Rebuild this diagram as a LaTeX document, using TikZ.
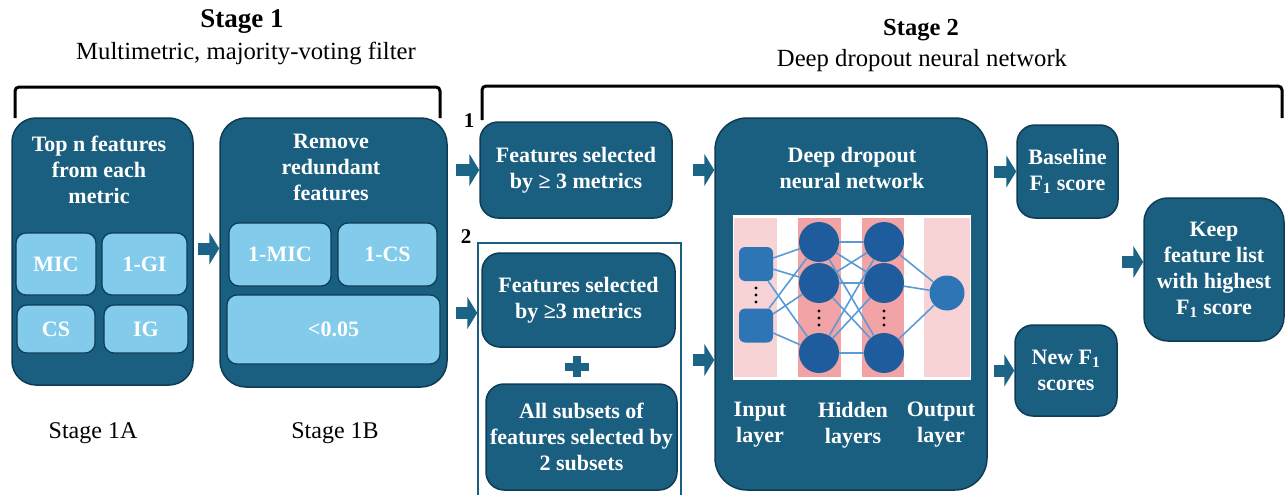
\documentclass[tikz,border=0pt]{standalone}
\usepackage{fontspec}
\setmainfont{Liberation Serif}
\usetikzlibrary{arrows.meta,calc}
\definecolor{boxc}{HTML}{1A5E80}
\definecolor{boxb}{HTML}{0E3C55}
\definecolor{lightc}{HTML}{82CBEB}
\definecolor{arrc}{HTML}{1B6485}
\definecolor{pinkl}{HTML}{F8D3D6}
\definecolor{pinkd}{HTML}{F2A3A5}
\definecolor{nnsq}{HTML}{2E75B6}
\definecolor{nnhid}{HTML}{1F5C9E}
\definecolor{edgec}{HTML}{5B9BD5}
\begin{document}
\begin{tikzpicture}[x=1pt,y=-1pt,
  boxtext/.style={text=white,font=\bfseries\fontsize{22}{26}\selectfont,align=center,inner sep=0pt},
  darkbox/.style={draw=boxb,line width=1.5pt,fill=boxc,rounded corners=#1,inner sep=0pt},
  darkbox/.default=18pt,
  lightbox/.style={draw=boxb,line width=1.2pt,fill=lightc,rounded corners=10pt,text=white,font=\bfseries\fontsize{22}{26}\selectfont,align=center,inner sep=0pt},
  barrow/.style={line width=12pt,draw=arrc,-{Triangle[length=10pt,width=32pt]}},
  bracket/.style={line width=3pt,rounded corners=4pt},
  headb/.style={font=\bfseries\fontsize{#1}{30}\selectfont,inner sep=0pt},
  headr/.style={font=\fontsize{24.7}{29}\selectfont,inner sep=0pt},
  plainlab/.style={font=\fontsize{24}{29}\selectfont,inner sep=0pt},
  numlab/.style={font=\bfseries\fontsize{21}{25}\selectfont,inner sep=0pt},
  hid/.style={circle,fill=nnhid,minimum size=40pt,inner sep=0pt},
  outn/.style={circle,fill=nnsq,minimum size=35pt,inner sep=0pt},
  inn/.style={rectangle,rounded corners=6pt,fill=nnsq,minimum size=34pt,inner sep=0pt},
  edge/.style={draw=edgec,line width=1.6pt}
]
\useasboundingbox (0,0) rectangle (1285,495);
\begin{scope}
\clip (0,0) rectangle (1285,495);

% headings
\node[headb=27] (s1h) at (242,22) {Stage 1};
\node[headr] (s1s) at (246,53) {Multimetric, majority-voting filter};
\node[headb=24.5] (s2h) at (921,30) {Stage 2};
\node[headr] (s2s) at (922,61) {Deep dropout neural network};

% brackets
\draw[bracket] (15,118) -- (15,87) -- (440,87) -- (440,118);
\draw[bracket] (482,120) -- (482,86) -- (1282,86) -- (1282,118);

% Stage 1A
\node[darkbox=24pt,minimum width=181pt,minimum height=267pt] (A) at (102.5,251.5) {};
\node[boxtext] (At) at (99,170) {Top n features\\from each\\metric};
\node[lightbox,minimum width=80pt,minimum height=62pt] (mic) at (56,264) {MIC};
\node[lightbox,minimum width=85pt,minimum height=62pt] (gi) at (144.5,264) {1-GI};
\node[lightbox,minimum width=78pt,minimum height=48pt] (cs) at (56,329) {CS};
\node[lightbox,minimum width=84pt,minimum height=48pt] (ig) at (146,329) {IG};

% Stage 1B
\node[darkbox=26pt,minimum width=227pt,minimum height=269pt] (B) at (333.5,252.5) {};
\node[boxtext] (Bt) at (331,167) {Remove\\redundant\\features};
\node[lightbox,minimum width=102pt,minimum height=63pt] (bmic) at (280,254.5) {1-MIC};
\node[lightbox,minimum width=99pt,minimum height=63pt] (bcs) at (387.5,254.5) {1-CS};
\node[lightbox,minimum width=213pt,minimum height=69pt] (blt) at (333.5,329.5) {<0.05};

\node[plainlab] (l1a) at (93,433) {Stage 1A};
\node[plainlab] (l1b) at (335,433) {Stage 1B};

% Stage 2 inputs
\node[numlab] (n1) at (469,121) {1};
\node[numlab] (n2) at (466,237) {2};
\node[darkbox,minimum width=192pt,minimum height=96pt] (F1) at (576,170) {};
\node[boxtext] at (F1) {Features selected\\by ≥ 3 metrics};
\node[draw=boxc,line width=1.5pt,minimum width=203pt,minimum height=262pt,inner sep=0pt] (G2) at (579.5,374) {};
\node[darkbox,minimum width=193pt,minimum height=94pt] (F2) at (578.5,300) {};
\node[boxtext] at (F2) {Features selected\\by ≥3 metrics};
\fill[arrc] (565,363) rectangle (589,371);
\fill[arrc] (573,356) rectangle (581,377);
\node[darkbox,minimum width=191pt,minimum height=106pt] (S) at (581.5,437) {};
\node[boxtext] at (S) {All subsets of\\features selected by\\2 subsets};

% DNN
\node[darkbox=32pt,minimum width=272pt,minimum height=372pt] (D) at (851,304) {};
\node[boxtext] (Dt) at (852,168) {Deep dropout\\neural network};
\fill[white] (733,215) rectangle (971,380);
\fill[pinkl] (734,218) rectangle (777,377);
\fill[pinkd] (798,218) rectangle (841,377);
\fill[pinkd] (862,218) rectangle (904,377);
\fill[pinkl] (924,218) rectangle (970,377);
\node[inn] (i1) at (756,264) {};
\node[inn] (i2) at (756,325.5) {};
\node[hid] (h1) at (819,242) {};
\node[hid] (h2) at (819,283) {};
\node[hid] (h3) at (819,353) {};
\node[hid] (k1) at (884,242) {};
\node[hid] (k2) at (884,283) {};
\node[hid] (k3) at (884,353) {};
\node[outn] (o) at (947,293) {};
\foreach \a in {i1,i2}{\foreach \b in {h1,h2,h3}{\draw[edge] (\a) -- (\b);}}
\foreach \a in {h1,h2,h3}{\foreach \b in {k1,k2,k3}{\draw[edge] (\a) -- (\b);}}
\foreach \a in {k1,k2,k3}{\draw[edge] (\a) -- (o);}
\foreach \yy in {288,295,302}{\fill (756,\yy) circle (1.7);}
\foreach \yy in {311,318,325}{\fill (819,\yy) circle (1.7); \fill (884,\yy) circle (1.7);}
\node[boxtext] (li) at (760,425) {Input\\layer};
\node[boxtext] (lh) at (853,425) {Hidden\\layers};
\node[boxtext] (lo) at (941,425) {Output\\layer};

% outputs
\node[darkbox,minimum width=101pt,minimum height=93pt] (BL) at (1067.5,171.5) {};
\node[boxtext] at (BL) {Baseline\\F\textsubscript{1} score};
\node[darkbox,minimum width=102pt,minimum height=91pt] (NF) at (1066,370.5) {};
\node[boxtext] at (NF) {New F\textsubscript{1}\\scores};
\node[darkbox=24pt,minimum width=140pt,minimum height=143pt] (K) at (1214,269.5) {};
\node[boxtext] at (K) {Keep\\feature list\\with highest\\F\textsubscript{1} score};

% block arrows
\coordinate (p2) at (0,313);
\coordinate (p3) at (0,360);
\coordinate (k0) at (1122,262);
\draw[barrow] ($(A.east)+(4,-3)$) -- ($(B.west)+(0,-4)$);
\draw[barrow] ($(B.east |- F1.west)+(8,0)$) -- (F1.west);
\draw[barrow] ($(B.east |- p2)+(8,0)$) -- (G2.west |- p2);
\draw[barrow] ($(F1.east)+(20,0)$) -- (F1.east -| D.west);
\draw[barrow] ($(G2.east |- p3)+(11,0)$) -- (D.west |- p3);
\draw[barrow] ($(D.east |- BL.west)+(6,0)$) -- (BL.west);
\draw[barrow] ($(D.east |- NF.west)+(6,0)$) -- (NF.west);
\draw[barrow] (k0) -- (K.west |- k0);
\end{scope}
\end{tikzpicture}
\end{document}
